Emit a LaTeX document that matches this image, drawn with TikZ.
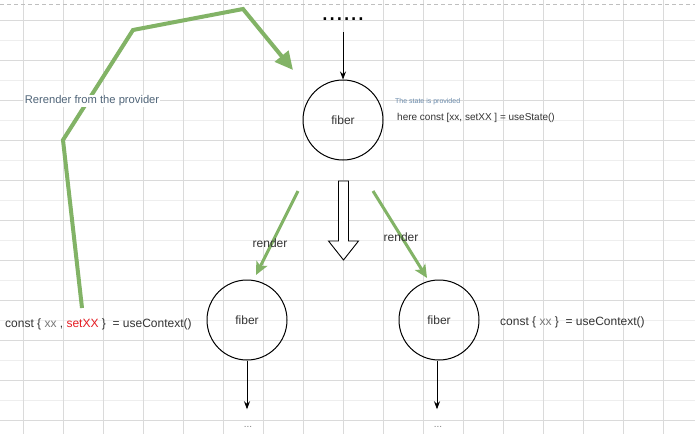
\documentclass[tikz,border=0pt]{standalone}
\usepackage{fontspec}
\setmainfont{Liberation Sans}
\usetikzlibrary{arrows.meta}
\definecolor{grn}{HTML}{82B366}
\definecolor{gridmaj}{HTML}{DADADA}
\definecolor{gridmin}{HTML}{EEEEEE}
\definecolor{txt}{HTML}{333333}
\definecolor{slate}{HTML}{4F6478}
\definecolor{note}{HTML}{6A8AAA}
\definecolor{redtxt}{HTML}{E51C23}
\definecolor{xxgray}{HTML}{777777}
\begin{document}
\begin{tikzpicture}[x=1pt,y=-1pt,
  fiber/.style={circle,draw,line width=1pt,minimum size=80pt,inner sep=0pt,text=txt,font=\fontsize{12}{14}\selectfont},
  blk/.style={-{Stealth[length=8pt,width=6pt]},line width=0.9pt},
  grnarrow/.style={draw=grn,line width=3pt,-{Stealth[length=13pt,width=12pt,inset=3pt]}},
  lbl/.style={inner sep=0pt,text=txt},
  codetext/.style={lbl,anchor=west,font=\fontsize{12}{14}\selectfont},
  rendertext/.style={lbl,font=\fontsize{12}{14}\selectfont},
  enddots/.style={lbl,text=gray,font=\fontsize{10}{10}\selectfont}
]
\useasboundingbox (0,0) rectangle (695,434);
\fill[white] (0,0) rectangle (695,434);
% grid
\foreach \y in {40,80,...,420} \draw[gridmin,line width=0.8pt] (0,\y) -- (695,\y);
\foreach \y in {20,60,...,420} \draw[gridmaj,line width=0.8pt] (0,\y) -- (695,\y);
\foreach \x in {23,63,...,663} \draw[gridmaj,line width=0.8pt] (\x,0) -- (\x,434);
\draw[gray!50,line width=0.8pt,dash pattern=on 4pt off 3pt] (0,4) -- (695,4);

% fibers
\node[fiber] (top) at (343,120) {fiber};
\node[fiber] (bl) at (247,320) {fiber};
\node[fiber] (br) at (439,320) {fiber};

% top dots and arrow
\node[lbl,text=black,font=\fontsize{26}{26}\selectfont,anchor=base] (dots) at (343,20) {......};
\draw[blk] ([yshift=-12pt]dots.base) -- (top.north);

% bottom dots and arrows
\node[enddots] (bld) at (248,427) {...};
\node[enddots] (brd) at (438,427) {...};
\coordinate (bla) at ([yshift=17pt]bld.north);
\coordinate (bra) at ([yshift=17pt]brd.north);
\draw[blk] (bl.south) -- (bl.south |- bla);
\draw[blk] ([xshift=-2pt]br.south) -- ([xshift=-2pt]br.south |- bra);

% hollow arrow
\draw[line width=0.9pt,fill=white] (338.5,181) -- (348.5,181) -- (348.5,241) -- (358.5,241)
  -- (343.5,260) -- (328.5,241) -- (338.5,241) -- cycle;

% render arrows
\coordinate (rl1) at (298,191);
\coordinate (rl2) at (256,275);
\coordinate (rr1) at (373,191);
\coordinate (rr2) at (427,278);
\draw[grnarrow] (rl1) -- (rl2);
\draw[grnarrow] (rr1) -- (rr2);
\node[rendertext] (rendl) at (270,243) {render};
\node[rendertext] (rendr) at (401,237) {render};

% texts
\node[codetext] (lt) at (5,324) {const \{ \textcolor{xxgray}{xx} , \textcolor{redtxt}{setXX} \}\ \ = useContext()};
\node[codetext] (rt) at (500,322) {const \{ \textcolor{xxgray}{xx} \}\ \ = useContext()};
\node[lbl,anchor=west,text=note,font=\fontsize{7}{8}\selectfont] (prov) at (395,102) {The state is provided};
\node[lbl,anchor=west,font=\fontsize{10}{12}\selectfont] (usest) at (397,118) {here const [xx, setXX ] = useState()};

% rerender path
\coordinate (gs) at (82,308);
\coordinate (g1) at (63,140);
\coordinate (g2) at (133,30);
\coordinate (g3) at (243,9);
\coordinate (ge) at (293,70);
\draw[draw=grn,line width=4pt,-{Triangle[length=18pt,width=17pt]}] (gs) -- (g1) -- (g2) -- (g3) -- (ge);
\node[fill=white,text=slate,inner sep=1pt,font=\fontsize{11.2}{13}\selectfont] (rer) at (92,101) {Rerender from the provider};
\end{tikzpicture}
\end{document}
